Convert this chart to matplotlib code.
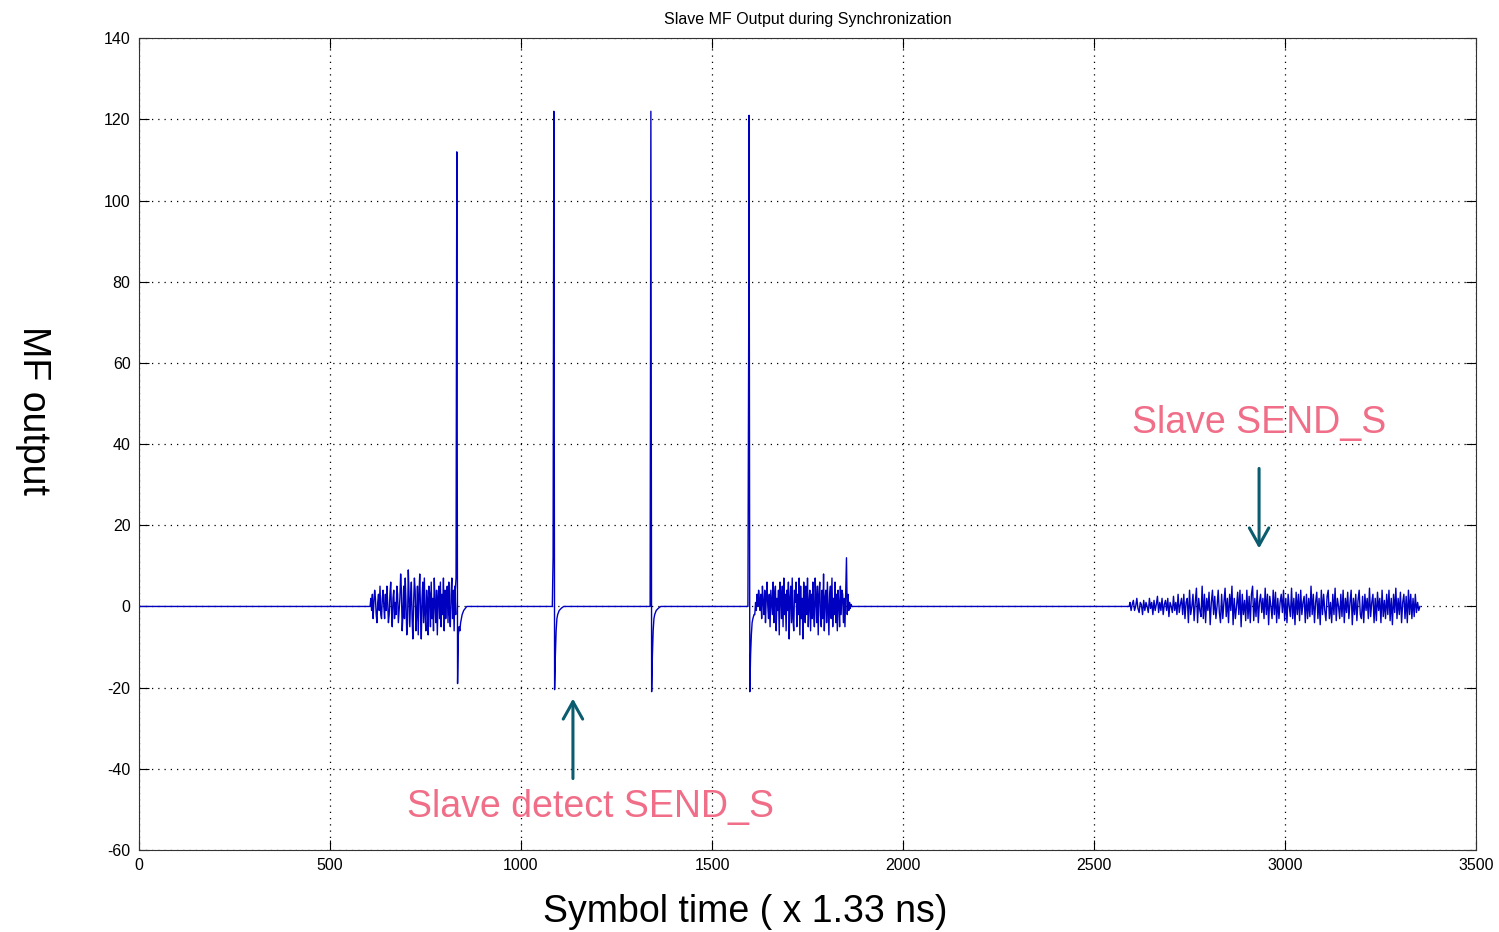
import numpy as np
import matplotlib.pyplot as plt

plt.rcParams['axes.unicode_minus'] = False

# pulse samples (symbol index, MF output)
p1_x = [828, 830, 832, 834, 836, 838, 840, 842, 844, 846, 848, 850, 854, 858]
p1_y = [4, 7, 112, -19, -7, -5, -6, -4, -3, -2, -1.5, -1, -0.5, 0]

p2_x = [1082, 1084, 1086, 1088, 1090, 1092, 1094, 1096, 1100, 1106, 1112]
p2_y = [0, 12, 122, -20.5, -12, -6, -3, -2, -1, -0.4, 0]

p3_x = [1338, 1340, 1342, 1344, 1346, 1348, 1350, 1354, 1360, 1366]
p3_y = [0, 122, -21, -12, -6, -3, -2, -1, -0.4, 0]

p4_x = [1594, 1596, 1597, 1599, 1601, 1603, 1605, 1607, 1610]
p4_y = [0, 66, 121, -21, -12, -7, -4, -3, -2]

# noise bursts: start index, sample step, values
b1_start, b1_step = 605, 2
b1 = [0, 2, -1, 3, -3, 1, 4, 2, -2, -4, 1, 3, -1, 5, -2, -3, 2, 4, 0, -3,
      3, -1, 5, 1, -4, -2, 3, 6, -1, -5, 2, 4, -3, 1, -2, 5, 3, -4, -1, 2,
      8, 4, -6, -2, 5, -3, 7, 1, -7, -4, 9, 3, -5, 2, 6, -3, -8, 1, 7, 4,
      -6, -2, 5, -7, 3, 8, -1, -8, 2, 6, -4, 7, -2, -6, 4, 1, -7, 5, 3, -5,
      6, -3, 2, -6, 7, 1, -4, 4, -7, 2, 5, -3, 6, -5, 3, -2, 7, -6, 4, -3,
      2, 5, -4, 6, -2, -5, 3, 7, -3, 4, -6, 5, -2]

b2_start, b2_step = 1612, 2
b2 = [-2, 1, -1, 3, 0, 4, 2, -1, 3, -3, 5, 1, -2, 4, -4, 2, 6, 0, -3, 3,
      -5, 4, 1, -2, 6, -4, 3, 5, -6, 2, -1, 4, -7, 6, 2, -3, 5, -5, 7, -2,
      3, -6, 4, -1, 6, -8, 2, 5, -4, 7, -3, -6, 4, 1, 6, -5, 3, -2, 7, -7,
      5, -3, 2, -8, 6, 3, -4, 5, -2, 7, -5, 1, 4, -6, 3, -3, 6, -1, -5, 7,
      2, -4, 5, -7, 3, 6, -2, -5, 4, -3, 8, -6, 2, 4, -4, 6, -1, -7, 3, 5,
      -3, 7, -5, 2, -2, 6, -4, 3, -6, 4, 1, -5, 5, -2, 4, 3, -4, 2, -5, 3,
      12, -2, 3, -1, 1, -0.5, 0.5, 0, 0]

b3_start, b3_step = 2594, 3
b3 = [1, -1, 0.5, 1.5, -1, 0, 2, -0.5, -1.5, 1, 0.5, -2, 1.5, -1, 1, 0, -1.5, 2, -0.5, 1,
      -2, 1.5, -1, 0.5, 2.5, -1.5, 1, -1, 2, -2, 0.5, 1.5, -1, 2, -2.5, 1, 0, -1.5, 2.5, -1,
      1, -2, 3, -1.5, 0.5, 2, -2,
      3, -3, 1, 2, -4, 4, -2, 0, 3, -3.5, 1, 4.5, -4, 2, -1, -2.5, 5, -3, 3, -4,
      2, -1, 3.5, -4.5, 1, 4, -2, 2.5, -3, 0, 4, -1.5, -4, 3, -3, 1, 4.5, -2.5, 2, -4,
      3, -1, 5, -4.5, 2, -3, 0, 3.5, -2, 4, -5, 3, -2, 1.5, -3.5, 4, -3, 2.5, -4, 3,
      5, -3.5, 2, -2.5, 4, -4, 1, 3, -1.5, 2, -3, 4.5, -2, 3, -4.5, 2.5, 0, -3, 4, -2,
      3.5, -4, 2, -3, 1, 3, -1.5, 4, -3.5, 2, -4, 3, 0, -2.5, 4.5, -3, 2, -4.5, 3.5, -2,
      3, -3.5, 4, -2, 1, 2.5, -4, 3, -3, 2, -2.5, 5, -2, 3, -4, 1, 3.5, -3, 2, -4.5,
      4, -2, 3, -1, -3.5, 2.5, 4, -3, 1, -4, 3, -2, 4.5, -3.5, 2, 0, -3, 3, -2.5, 4,
      -4, 2, -1.5, 3.5, -3, 1, 4, -4.5, 2, -2, 3, -3.5, 1.5, 4, -2, -3, 2.5, -4, 3, -1,
      2, -3, 4.5, -2.5, 1, 3, -4, 2, -3.5, 3.5, -1, 2, -4, 4, -2.5, 1.5, -3, 3, -2, 4,
      -3.5, 2, -4.5, 3, -1.5, 4.5, -3, 2, -2, 3.5, -4, 1, 3, -3, 2.5, -4, 4, -2, 3, -3,
      2, -2.5, 3, -1.5, 1, -1, 0]


def burst(start, step, vals):
    xs = start + step * np.arange(len(vals))
    return list(xs), list(vals)


x, y = [0, b1_start - 2], [0, 0]
bx, by = burst(b1_start, b1_step, b1)
x += bx; y += by
x += p1_x; y += p1_y
x += p2_x; y += p2_y
x += p3_x; y += p3_y
x += p4_x; y += p4_y
bx, by = burst(b2_start, b2_step, b2)
x += bx; y += by
x += [b3_start - 2]; y += [0]
bx, by = burst(b3_start, b3_step, b3)
x += bx; y += by

small_font = 'Liberation Sans'

fig = plt.figure(figsize=(14.99, 9.32), dpi=100)
ax = fig.add_axes([0.0927, 0.088, 0.892, 0.871])
ax.plot(x, y, color='#0000c0', lw=1.0)

ax.set_xlim(0, 3500)
ax.set_ylim(-60, 140)
ax.set_xticks(np.arange(0, 3501, 500))
ax.set_yticks(np.arange(-60, 141, 20))
ax.grid(True, linestyle=(0, (1, 4)), color='black', lw=0.9)
ax.tick_params(direction='in', top=True, right=True, length=7, labelsize=11.5, pad=6)
for lab in ax.get_xticklabels() + ax.get_yticklabels():
    lab.set_family(small_font)
for s in ax.spines.values():
    s.set_color('#333333')
ax.set_title('Slave MF Output during Synchronization', fontsize=11.5,
             family=small_font, pad=10)

fig.text(0.497, 0.021, 'Symbol time ( x 1.33 ns)', fontsize=27,
         family='Liberation Sans', ha='center', va='center')
fig.text(0.022, 0.56, 'MF output', fontsize=27, family='Liberation Sans',
         rotation=270, ha='center', va='center')

pink = '#F06E88'
teal = '#0B5C6E'
arrow = dict(arrowstyle='->, head_length=0.5, head_width=0.28', color=teal,
             lw=2.2, mutation_scale=25, shrinkA=0, shrinkB=0)
ax.text(1181, -49.3, 'Slave detect SEND_S', color=pink, fontsize=27,
        family='Liberation Sans', ha='center', va='center')
ax.text(2932, 45.3, 'Slave SEND_S', color=pink, fontsize=27,
        family='Liberation Sans', ha='center', va='center')
ax.annotate('', xy=(1136, -22.7), xytext=(1136, -42.4), arrowprops=arrow)
ax.annotate('', xy=(2932, 14.3), xytext=(2932, 34), arrowprops=arrow)

fig.savefig('out.png', dpi=100)
